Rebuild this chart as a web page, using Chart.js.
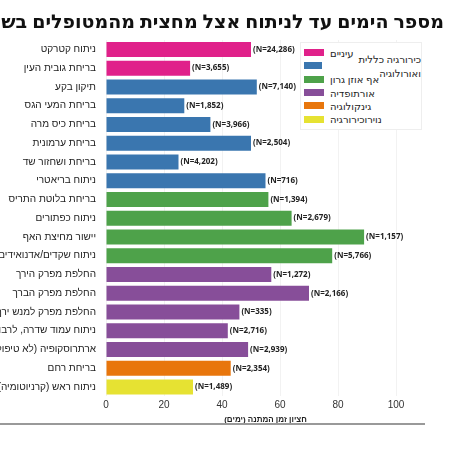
<!DOCTYPE html>
<html lang="he">
<head>
<meta charset="UTF-8">
<script src="https://cdn.jsdelivr.net/npm/chart.js"></script>
<style>
    body { margin: 0; background: #fff; font-family: "Noto Sans", "DejaVu Sans", sans-serif; }
    #wrap { position: relative; width: 450px; height: 450px; overflow: hidden; }
    #title { position: absolute; right: 6px; top: 8px; white-space: nowrap; font-weight: bold; font-size: 19px; color: #111; }
    #legend { position: absolute; left: 300px; top: 42px; width: 120px; border: 1px solid #eee; background: #fff; padding: 3px 0; font-size: 10px; color: #222; }
    #legend div { display: flex; align-items: center; height: 13.3px; }
    #legend span.sw { display: inline-block; width: 20px; height: 7px; margin: 0 6px 0 3px; }
    #line { position: absolute; left: 0; top: 423px; width: 425px; height: 2px; background: #999; }
</style>
</head>
<body>
<div id="wrap">
    <canvas id="chart" width="450" height="450" dir="rtl"></canvas>
    <div id="title" dir="rtl">מספר הימים עד לניתוח אצל מחצית מהמטופלים בשנת 2024</div>
    <div id="legend"></div>
    <div id="line"></div>
</div>
<script>
    // data
    var procedures = ['ניתוח קטרקט', 'בריחת גובית העין', 'תיקון בקע', 'בריחת המעי הגס', 'בריחת כיס מרה',
        'בריחת ערמונית', 'בריחת ושחזור שד', 'ניתוח בריאטרי', 'בריחת בלוטת התריס', 'ניתוח כפתורים',
        'יישור מחיצת האף', 'ניתוח שקדים/אדנואידים', 'החלפת מפרק הירך', 'החלפת מפרק הברך',
        'החלפת מפרק למנש ירך וברך', 'ניתוח עמוד שדרה, לרבות תיקון פריצת דיסק', 'ארתרוסקופיה (לא טיפולית)',
        'בריחת רחם', 'ניתוח ראש (קרניוטומיה)'];
    var medianDays = [50, 29, 52, 27, 36, 50, 25, 55, 56, 64, 89, 78, 57, 70, 46, 42, 49, 43, 30];
    var patients = ['24,286', '3,655', '7,140', '1,852', '3,966', '2,504', '4,202', '716', '1,394', '2,679',
        '1,157', '5,766', '1,272', '2,166', '335', '2,716', '2,939', '2,354', '1,489'];
    var specialtyOf = [0, 0, 1, 1, 1, 1, 1, 1, 2, 2, 2, 2, 3, 3, 3, 3, 3, 4, 5];
    var specialties = ['עיניים', 'כירורגיה כללית ואורולוגיה', 'אף אוזן גרון', 'אורתופדיה', 'גינקולוגיה', 'נוירוכירורגיה'];
    var colors = ['#e0218a', '#3a76af', '#4ea24a', '#874e99', '#e8760c', '#e6e232'];
    var xTicks = [0, 20, 40, 60, 80, 100];

    var datasets = specialties.map(function(name, s) {
        return {
            label: name,
            backgroundColor: colors[s],
            data: medianDays.map(function(v, i) { return specialtyOf[i] === s ? v : null; }),
            barPercentage: 0.8,
            categoryPercentage: 1,
            grouped: false
        };
    });

    // html legend
    var legend = document.getElementById('legend');
    specialties.forEach(function(name, s) {
        var row = document.createElement('div');
        row.innerHTML = '<span class="sw" style="background:' + colors[s] + '"></span><span dir="rtl">' + name + '</span>';
        legend.appendChild(row);
    });

    // draws (N=...) after each bar
    var countLabels = {
        id: 'countLabels',
        afterDatasetsDraw: function(chart) {
            var ctx = chart.ctx;
            ctx.save();
            ctx.direction = 'ltr';
            ctx.font = 'bold 8px "Noto Sans", sans-serif';
            ctx.fillStyle = '#222';
            ctx.textAlign = 'left';
            ctx.textBaseline = 'middle';
            chart.data.datasets.forEach(function(ds, d) {
                chart.getDatasetMeta(d).data.forEach(function(bar, i) {
                    if (ds.data[i] == null) return;
                    ctx.fillText('(N=' + patients[i] + ')', bar.x + 2, bar.y);
                });
            });
            ctx.restore();
        }
    };

    new Chart(document.getElementById('chart'), {
        type: 'bar',
        data: { labels: procedures, datasets: datasets },
        plugins: [countLabels],
        options: {
            indexAxis: 'y',
            responsive: false,
            animation: false,
            layout: { padding: { top: 40, right: 25, bottom: 24 } },
            plugins: { legend: { display: false }, tooltip: { enabled: false } },
            scales: {
                x: {
                    min: 0, max: 110,
                    afterBuildTicks: function(axis) { axis.ticks = xTicks.map(function(v) { return { value: v }; }); },
                    grid: { color: '#f2f2f2', drawTicks: false },
                    border: { display: false },
                    ticks: { color: '#333', font: { size: 10 }, padding: 3 },
                    title: { display: true, text: 'חציון זמן המתנה (ימים)', color: '#222', font: { size: 8, weight: 'bold' }, padding: 1 }
                },
                y: {
                    afterFit: function(axis) { axis.width = 106; },
                    grid: { display: false },
                    border: { display: false },
                    ticks: { color: '#222', font: { size: 10 }, padding: 2, autoSkip: false }
                }
            }
        }
    });
</script>
</body>
</html>
